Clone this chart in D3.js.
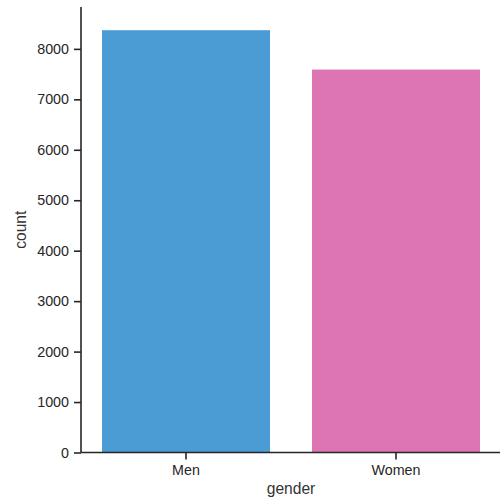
<!DOCTYPE html>
<html>
<head>
<meta charset="utf-8">
<script src="https://cdn.jsdelivr.net/npm/d3@7"></script>
<style>
  html, body { margin: 0; padding: 0; background: #fff; }
  svg { display: block; }
  text { font-family: "Liberation Sans", Arial, sans-serif; fill: #262626; }
</style>
</head>
<body>
<svg id="chart" width="500" height="499"></svg>
<script>
const categories = ["Men", "Women"];
const counts = [8370, 7590];
const barColors = ["#4b9bd5", "#dd75b2"];
const yTicks = [0, 1000, 2000, 3000, 4000, 5000, 6000, 7000, 8000];
const yMax = 8830;

(function () {
const svg = d3.select("#chart");
const mLeft = 81, mRight = 501, mTop = 7, mBottom = 452.5;

const x = d3.scaleBand().domain(categories).range([mLeft, mRight])
  .paddingInner(0.2).paddingOuter(0.1);
const y = d3.scaleLinear().domain([0, yMax]).range([mBottom, mTop]);

svg.append("g").selectAll("rect")
  .data(categories.map((c, i) => ({ c, v: counts[i], col: barColors[i] })))
  .join("rect")
  .attr("x", d => x(d.c))
  .attr("width", x.bandwidth())
  .attr("y", d => y(d.v))
  .attr("height", d => y(0) - y(d.v))
  .attr("fill", d => d.col);

const yAxis = svg.append("g")
  .attr("transform", `translate(${mLeft},0)`)
  .call(d3.axisLeft(y).tickValues(yTicks).tickFormat(d3.format("d")).tickSize(7).tickPadding(5));
const xAxis = svg.append("g")
  .attr("transform", `translate(0,${mBottom})`)
  .call(d3.axisBottom(x).tickSize(7).tickPadding(5));

[yAxis, xAxis].forEach(g => {
  g.selectAll(".domain").attr("stroke", "#262626").attr("stroke-width", 1.6);
  g.selectAll(".tick line").attr("stroke", "#262626").attr("stroke-width", 1.6);
  g.selectAll(".tick text").style("font-size", "14.3px").attr("fill", "#333")
    .style("font-family", "'Liberation Sans', Arial, sans-serif");
});
yAxis.select(".domain").attr("d", `M0,${mTop}V${mBottom}`);
xAxis.select(".domain").attr("d", `M${mLeft},0H${mRight}`);

svg.append("text")
  .attr("x", (mLeft + mRight) / 2)
  .attr("y", 494)
  .attr("text-anchor", "middle")
  .style("font-size", "15.6px")
  .style("fill", "#333")
  .text("gender");

svg.append("text")
  .attr("transform", `translate(26,${(mTop + mBottom) / 2}) rotate(-90)`)
  .attr("text-anchor", "middle")
  .style("font-size", "15.6px")
  .style("fill", "#333")
  .text("count");
})();
</script>
</body>
</html>
